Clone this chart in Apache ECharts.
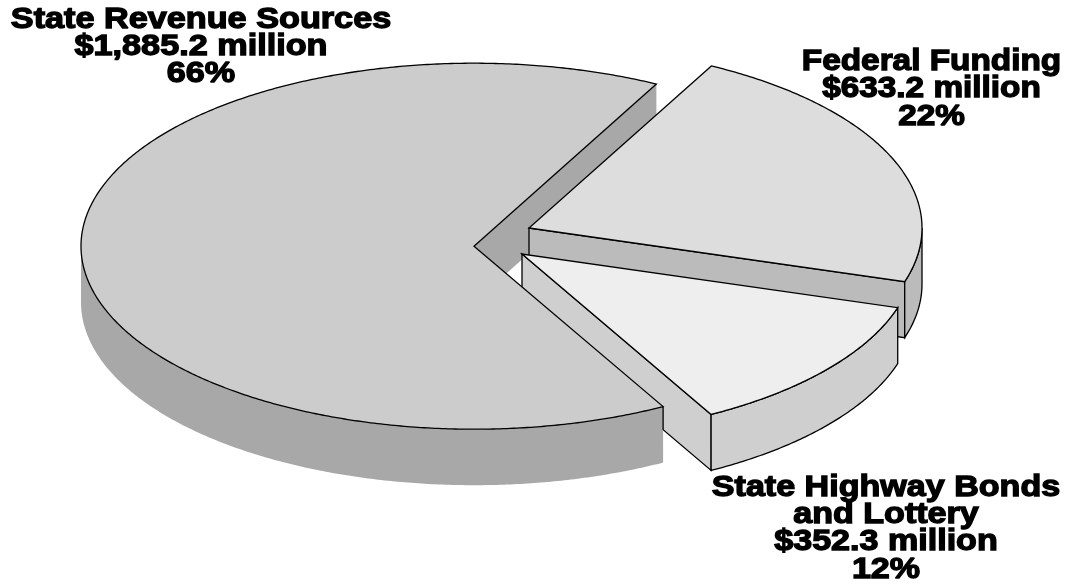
<!DOCTYPE html>
<html>
<head>
<meta charset="utf-8">
<script src="https://cdn.jsdelivr.net/npm/echarts@6/dist/echarts.min.js"></script>
<style>
  html, body { margin: 0; padding: 0; background: #fff; }
  #chart { width: 1082px; height: 584px; }
</style>
</head>
<body>
<div id="chart"></div>
<script>
// Funding sources, listed counter-clockwise from the start angle.
const sourceNames = [
  ['State Revenue Sources'],
  ['State Highway Bonds', 'and Lottery'],
  ['Federal Funding']
];
const sourceMillions = [1885.2, 352.3, 633.2];

// Pie drawing parameters.
const START_ANGLE = 62.35;
const RADIUS_X = 393;
const RADIUS_Y = 183;
const DEPTH = 56;
const LINE_WIDTH = 1.3;
const LINE_COLOR = '#000';

const sliceStyles = [
  { cx: 474, cy: 246.2, top: '#cccccc', side: '#a8a8a8', face: '#a8a8a8', rim: false,
    labelX: 201, labelY: 19.5, labelScale: 1.18, z: 20 },
  { cx: 522, cy: 254, top: '#eeeeee', side: '#cfcfcf', face: '#cfcfcf', rim: true,
    labelX: 886, labelY: 487.5, labelScale: 1.175, z: 10 },
  { cx: 529, cy: 228, top: '#dddddd', side: '#bbbbbb', face: '#bbbbbb', rim: true,
    labelX: 931.5, labelY: 62, labelScale: 1.15, z: 5 }
];

const total = sourceMillions.reduce((a, b) => a + b, 0);
const toRad = d => d * Math.PI / 180;
const rimPoint = (s, deg, dy) => [
  s.cx + RADIUS_X * Math.cos(toRad(deg)),
  s.cy - RADIUS_Y * Math.sin(toRad(deg)) + (dy || 0)
];
const arcPoints = (s, from, to, dy) => {
  const pts = [];
  const n = Math.max(2, Math.ceil(Math.abs(to - from) * 2));
  for (let i = 0; i <= n; i++) pts.push(rimPoint(s, from + (to - from) * i / n, dy));
  return pts;
};
const money = v => '$' + v.toLocaleString('en-US', { minimumFractionDigits: 1 }) + ' million';

// Part of the sweep that lies on the near (lower) half of the ellipse.
function nearSpans(a0, a1) {
  const spans = [];
  for (let k = -1; k <= 1; k++) {
    const lo = Math.max(a0, 180 + 360 * k);
    const hi = Math.min(a1, 360 + 360 * k);
    if (hi > lo) spans.push([lo, hi]);
  }
  return spans;
}

function renderSlice(params, api) {
  const i = params.dataIndex;
  const s = sliceStyles[i];
  const value = api.value(0);
  let before = 0;
  for (let k = 0; k < i; k++) before += sourceMillions[k];
  const a0 = START_ANGLE + before / total * 360;
  const a1 = a0 + value / total * 360;
  const apex = [s.cx, s.cy];
  const children = [];
  const line = s.rim ? { stroke: LINE_COLOR, lineWidth: LINE_WIDTH } : { stroke: null };

  // Cut face along the clockwise edge of the wedge.
  const edge = rimPoint(s, a0);
  const main = i === 0;
  children.push({
    type: 'polygon', z2: main ? 1 : s.z,
    shape: { points: [apex, edge, [edge[0], edge[1] + DEPTH], [apex[0], apex[1] + DEPTH]] },
    style: Object.assign({ fill: s.face }, line)
  });

  // Outer wall, only where it faces the viewer.
  nearSpans(a0, a1).forEach(([lo, hi]) => {
    children.push({
      type: 'polygon', z2: s.z + 1,
      shape: { points: arcPoints(s, lo, hi, 0).concat(arcPoints(s, hi, lo, DEPTH)) },
      style: Object.assign({ fill: s.side }, line)
    });
  });

  // Top surface of the wedge.
  children.push({
    type: 'polygon', z2: s.z + 2,
    shape: { points: [apex].concat(arcPoints(s, a0, a1, 0)) },
    style: { fill: s.top, stroke: LINE_COLOR, lineWidth: LINE_WIDTH, lineJoin: 'miter' }
  });

  // The large wedge overlaps the neighbouring cut face; close that junction with a short edge.
  if (main) {
    const end = rimPoint(s, a1);
    const h = sliceStyles[1];
    const hEnd = rimPoint(h, a1);
    const t = (end[0] - h.cx) / (hEnd[0] - h.cx);
    const bottom = h.cy + DEPTH + (hEnd[1] - h.cy) * t;
    children.push({
      type: 'line', z2: s.z + 3,
      shape: { x1: end[0], y1: end[1], x2: end[0], y2: bottom },
      style: { stroke: LINE_COLOR, lineWidth: LINE_WIDTH }
    });
  }

  // Three- or four-line bold label.
  const lines = sourceNames[i].concat([money(value), Math.round(value / total * 100) + '%']);
  lines.forEach((text, n) => {
    children.push({
      type: 'text', z2: 40,
      x: s.labelX, y: s.labelY + n * 27.4, scaleX: s.labelScale, scaleY: 1,
      style: {
        text, x: 0, y: 0, align: 'center', verticalAlign: 'middle',
        font: 'bold 29px "Liberation Sans", Arial, sans-serif',
        fill: '#000', stroke: '#000', lineWidth: 1.3
      }
    });
  });

  return { type: 'group', children };
}

const chart = echarts.init(document.getElementById('chart'), null, { renderer: 'canvas' });
chart.setOption({
  backgroundColor: '#ffffff',
  animation: false,
  series: [{
    type: 'custom',
    coordinateSystem: 'none',
    silent: true,
    renderItem: renderSlice,
    data: sourceMillions.map((v, i) => ({ name: sourceNames[i].join(' '), value: [v] }))
  }]
});
</script>
</body>
</html>
